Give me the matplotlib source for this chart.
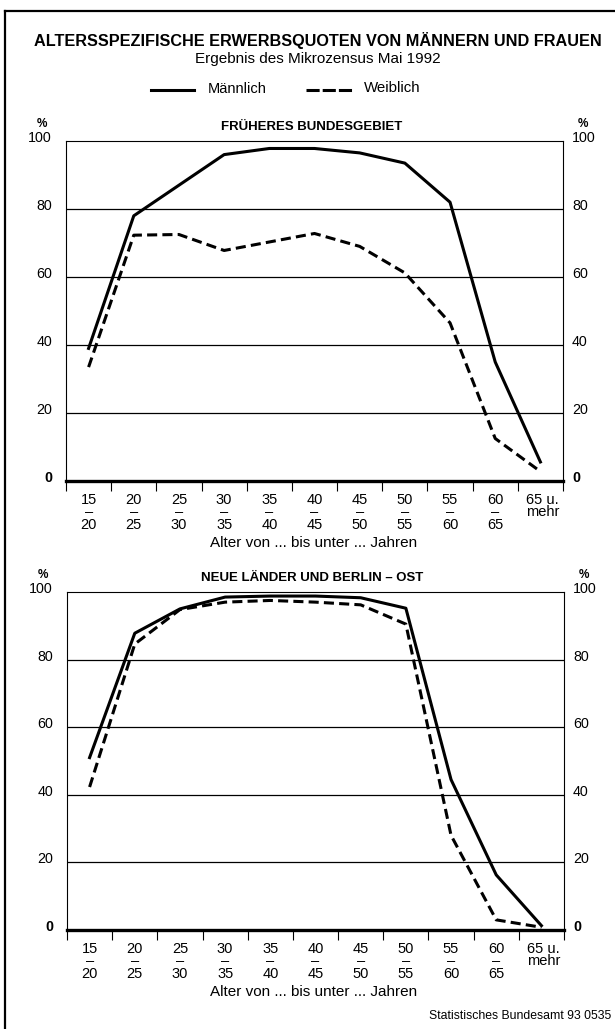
import numpy as np
import matplotlib.pyplot as plt
from matplotlib.lines import Line2D

plt.rcParams['font.family'] = ['Liberation Sans', 'DejaVu Sans']

# data
age_from = ["15", "20", "25", "30", "35", "40", "45", "50", "55", "60"]
age_to = ["20", "25", "30", "35", "40", "45", "50", "55", "60", "65"]
last_label = "65 u.\nmehr"

west_male = [39, 78, 87, 96, 97.8, 97.8, 96.5, 93.5, 82, 35, 5.6]
west_female = [33.5, 72.3, 72.5, 67.8, 70.3, 72.8, 69, 61.2, 46.5, 12.5, 2.8]
east_male = [51, 87.8, 95, 98.5, 98.8, 98.8, 98.3, 95.2, 44.5, 16.3, 1.3]
east_female = [42.3, 84.6, 94.8, 97, 97.5, 97, 96.2, 90.5, 28, 3, 0.8]

yticks = [0, 20, 40, 60, 80, 100]

W, H = 615, 1029
fig = plt.figure(figsize=(W / 100, H / 100), dpi=100)


def fx(x):
    return x / W


def fy(y):
    return 1 - y / H


# frame of the original page (left and top only)
fig.add_artist(Line2D([fx(5), fx(5)], [fy(11), fy(1029)], color='black', lw=1.6))
fig.add_artist(Line2D([fx(5), fx(615)], [fy(11), fy(11)], color='black', lw=1.6))

fig.text(fx(318), fy(46), "ALTERSSPEZIFISCHE ERWERBSQUOTEN VON MÄNNERN UND FRAUEN",
         ha='center', va='baseline', fontsize=11.7, fontweight='bold')
fig.text(fx(318), fy(63), "Ergebnis des Mikrozensus Mai 1992",
         ha='center', va='baseline', fontsize=11)

# legend
fig.add_artist(Line2D([fx(151), fx(194)], [fy(90), fy(90)], color='black', lw=2.2))
fig.text(fx(208), fy(89), "Männlich", ha='left', va='center', fontsize=10.5)
fig.add_artist(Line2D([fx(306), fx(354)], [fy(90), fy(90)], color='black', lw=2.2,
                      dashes=(4.3, 1.0)))
fig.text(fx(364), fy(88), "Weiblich", ha='left', va='center', fontsize=10.8)


def panel(left, right, top, bottom, title, male, female):
    ax = fig.add_axes([fx(left), fy(bottom), fx(right - left), (bottom - top) / H])
    x = np.arange(len(male))
    ax.plot(x, male, color='black', lw=2.2, zorder=3)
    ax.plot(x, female, color='black', lw=2.2, dashes=(3.3, 1.7), zorder=3)
    ax.set_xlim(-0.5, len(male) - 0.5)
    ax.set_ylim(0, 100)
    for v in [20, 40, 60, 80]:
        ax.axhline(v, color='black', lw=0.9, zorder=1)
    for s in ['left', 'right', 'top']:
        ax.spines[s].set_linewidth(0.8)
    ax.spines['bottom'].set_linewidth(2.4)
    ax.set_xticks(np.arange(-0.5, len(male), 1.0))
    ax.set_xticklabels([])
    ax.tick_params(axis='x', direction='out', length=7, width=0.8)
    ax.set_yticks([])

    # y labels on both sides
    for v in yticks:
        ypix = bottom - (bottom - top) * v / 100 - 3
        w = 'bold' if v == 0 else 'normal'
        fig.text(fx(left - 14), fy(ypix), str(v), ha='right', va='center', fontsize=10.3, fontweight=w)
        fig.text(fx(right + 9), fy(ypix), str(v), ha='left', va='center', fontsize=10.3, fontweight=w)
    fig.text(fx(left - 24), fy(top - 17), "%", ha='center', va='center', fontsize=8.5, fontweight='bold')
    fig.text(fx(right + 20), fy(top - 17), "%", ha='center', va='center', fontsize=8.5, fontweight='bold')
    fig.text(fx((left + right) / 2 - 3), fy(top - 14), title, ha='center', va='center',
             fontsize=9.5, fontweight='bold')

    # category labels below the axis
    for i in range(len(male)):
        lab = f"{age_from[i]}\n–\n{age_to[i]}" if i < len(age_from) else last_label
        xd = ax.transData.transform((i, 0))[0]
        fig.text(xd / W if i < len(age_from) else (xd + 2) / W, fy(bottom + 12), lab,
                 ha='center', va='top', fontsize=10.5, linespacing=0.86)
    fig.text(fx(314), fy(bottom + 62), "Alter von ... bis unter ... Jahren",
             ha='center', va='center', fontsize=11)
    return ax


panel(66, 563, 141, 481, "FRÜHERES BUNDESGEBIET", west_male, west_female)
panel(67, 564, 592, 930, "NEUE LÄNDER UND BERLIN – OST", east_male, east_female)

fig.text(fx(611), fy(1016), "Statistisches Bundesamt 93 0535", ha='right', va='center', fontsize=8.8)

fig.savefig("out.png", dpi=100)
